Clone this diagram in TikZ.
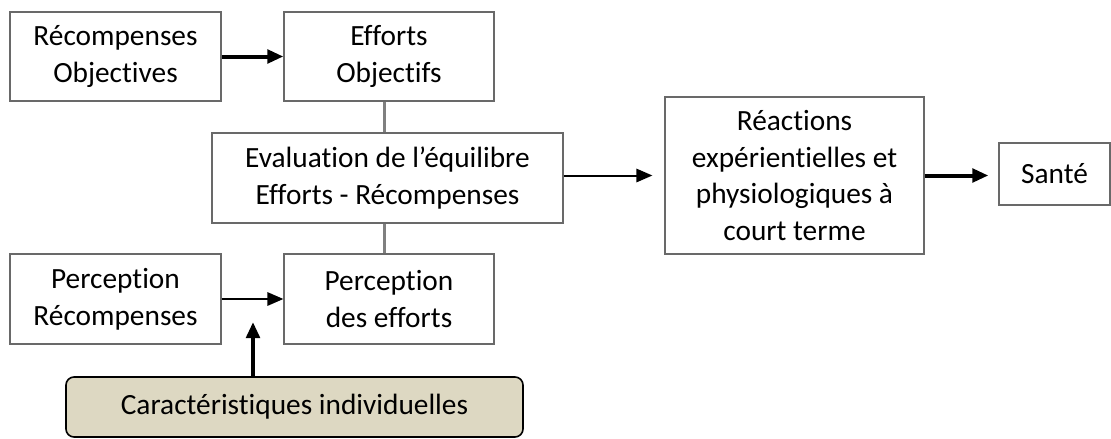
\documentclass[tikz,border=0pt]{standalone}
\usepackage{fontspec}
\setmainfont{Carlito}[Ligatures=CommonOff]
\usetikzlibrary{arrows.meta}
\definecolor{caracfill}{RGB}{221,216,194}
\definecolor{boxline}{RGB}{105,105,105}
\definecolor{linkgrey}{RGB}{128,128,128}

\tikzset{every picture/.style={line width=0.75pt}}

\begin{document}
\begin{tikzpicture}[x=0.75pt,y=0.75pt,yscale=-1,xscale=1,
    box/.style={draw=boxline, line width=0.9pt, fill=white, align=center, inner sep=0pt,
      font=\fontsize{22}{27.5}\selectfont},
    thickarrow/.style={line width=3pt, -{Triangle[length=12pt,width=10pt]}},
    thinarrow/.style={line width=1.5pt, -{Triangle[length=12pt,width=10pt]}},
    greylink/.style={draw=linkgrey, line width=2.25pt}]
    \path[use as bounding box] (0,0) rectangle (1111,439);

    %Shape: Rectangle [id:recobj]
    \node (recobj) [box, minimum width=158.25pt, minimum height=66.75pt] at (115.5,56.5) {Récompenses\\Objectives};
    %Shape: Rectangle [id:effobj]
    \node (effobj) [box, minimum width=157.5pt, minimum height=66.75pt] at (389,56.5) {Efforts\\Objectifs};
    %Shape: Rectangle [id:eval]
    \node (eval) [box, minimum width=263.25pt, minimum height=67.5pt] at (387.5,178) {Evaluation de l’équilibre\\Efforts - Récompenses};
    %Shape: Rectangle [id:percrec]
    \node (percrec) [box, minimum width=158.25pt, minimum height=67.5pt] at (115.5,299) {Perception\\Récompenses};
    %Shape: Rectangle [id:perceff]
    \node (perceff) [box, minimum width=157.5pt, minimum height=67.5pt] at (389,299) {Perception\\des efforts};
    %Shape: Rectangle [id:reac]
    \node (reac) [box, minimum width=194.25pt, minimum height=117.75pt] at (794.5,175.5) {Réactions\\expérientielles et\\physiologiques à\\court terme};
    %Shape: Rectangle [id:sante]
    \node (sante) [box, minimum width=83.25pt, minimum height=46.5pt] at (1054.5,174) {Santé};
    %Rounded Rect [id:carac]
    \node (carac) [box, draw=black, line width=1.2pt, fill=caracfill, rounded corners=6pt,
      minimum width=342.75pt, minimum height=45pt] at (294.5,407) {Caractéristiques individuelles};
    \coordinate (cartip) at (253,322);

    %Straight Lines [id:links]
    \draw [greylink] ([xshift=-3.75pt]effobj.south) -- ([xshift=-3.75pt]effobj.south |- eval.north);
    \draw [greylink] ([xshift=-3.75pt]perceff.north |- eval.south) -- ([xshift=-3.75pt]perceff.north);
    %Straight Lines [id:arrows]
    \draw [thickarrow] (recobj.east) -- (effobj.west);
    \draw [thinarrow] (percrec.east) -- (perceff.west);
    \draw [thinarrow, shorten >=9pt] (reac.west -| eval.east) -- (reac.west);
    \draw [thickarrow, shorten >=7.5pt] (reac.east) -- (reac.east -| sante.west);
    \draw [thickarrow] (carac.north -| cartip) -- (cartip);

\end{tikzpicture}
\end{document}
